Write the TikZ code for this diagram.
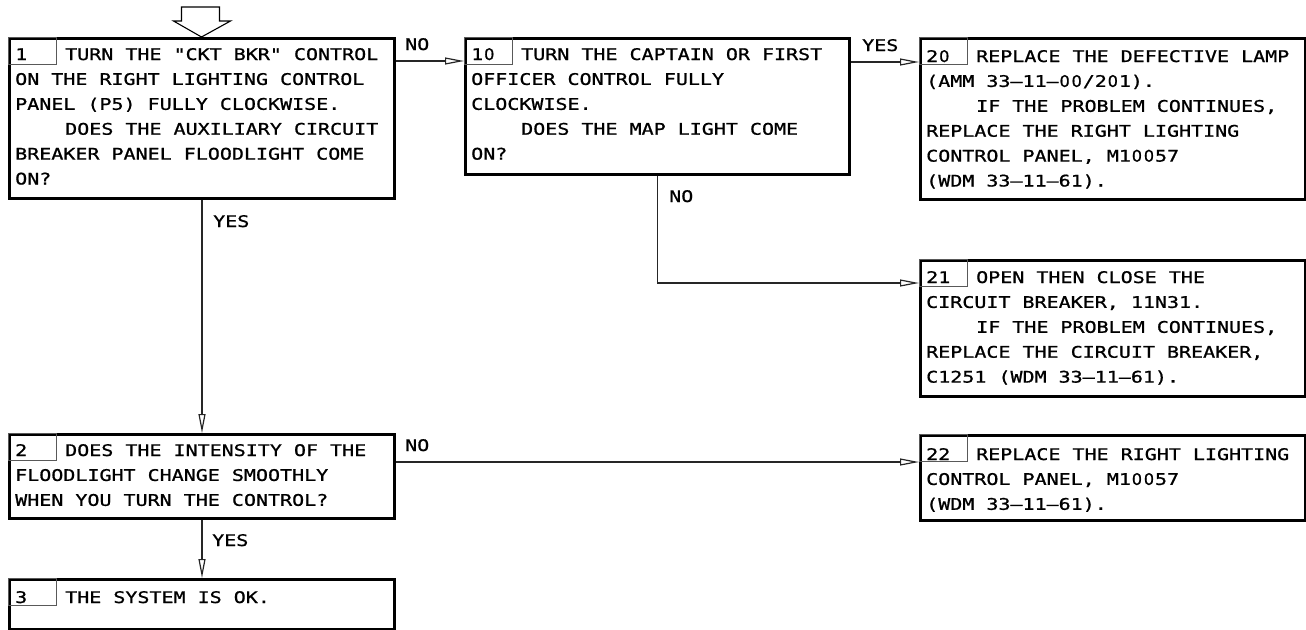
\documentclass[tikz,border=0pt]{standalone}
\usepackage{fontspec}
\usetikzlibrary{arrows.meta,calc}
\newfontfamily\diag[FakeStretch=1.25,FakeBold=1]{DejaVu Sans Mono}
\newfontfamily\zerofont[FakeBold=1]{DejaVu Sans}
\newcommand\zz{\makebox[12.04pt]{\zerofont 0}}
\newcommand\boxtext[3]{%
  \foreach \t [count=\i from 0] in {#3}{%
    \node[txt] (#1-\i) at ($(#2)+(0,\i*24.9)$) {\t};}}
\begin{document}
\begin{tikzpicture}[x=1pt,y=-1pt,
  box/.style={draw=black, line width=3pt, rectangle, inner sep=0pt, anchor=north west},
  cell/.style={draw=black!65, line width=1pt, rectangle, inner sep=0pt, anchor=north west,
    minimum width=48pt, minimum height=27pt},
  txt/.style={font=\diag\fontsize{16pt}{16pt}\selectfont, inner sep=0pt, anchor=base west},
  lbl/.style={txt},
  conn/.style={draw=black!85, line width=1.2pt, -{Triangle[open, length=19pt, width=7pt]}},
  blockarrow/.style={draw=black, line width=1.1pt, fill=white}
]
\useasboundingbox (0,0) rectangle (1306,629);

% boxes
\node[box, minimum width=385pt, minimum height=160pt] (b1)  at (8,37) {};
\node[box, minimum width=384pt, minimum height=136pt] (b10) at (464,37) {};
\node[box, minimum width=385pt, minimum height=161pt] (b20) at (919,37) {};
\node[box, minimum width=385pt, minimum height=136pt] (b21) at (919,259) {};
\node[box, minimum width=385pt, minimum height=84pt]  (b2)  at (8,433) {};
\node[box, minimum width=385pt, minimum height=85pt]  (b22) at (919,434) {};
\node[box, minimum width=385pt, minimum height=50pt]  (b3)  at (8,578) {};

% number cells
\node[cell] (c1)  at (8,37) {};
\node[cell] (c10) at (464,37) {};
\node[cell] (c20) at (919,37) {};
\node[cell] (c21) at (919,259) {};
\node[cell] (c2)  at (8,433) {};
\node[cell] (c22) at (919,434) {};
\node[cell] (c3)  at (8,578) {};

% texts
\coordinate (t1)  at (15,60);
\coordinate (t10) at (471,60);
\coordinate (t20) at (926,62);
\coordinate (t21) at (926,283);
\coordinate (t2)  at (15,456);
\coordinate (t22) at (926,460);
\coordinate (t3)  at (15,603);

\boxtext{x1}{t1}{{\makebox[50pt][l]{1}TURN THE "CKT BKR" CONTROL},
  {ON THE RIGHT LIGHTING CONTROL},
  {PANEL (P5) FULLY CLOCKWISE.},
  {\hspace*{50pt}DOES THE AUXILIARY CIRCUIT},
  {BREAKER PANEL FLOODLIGHT COME},
  {ON?}}
\boxtext{x10}{t10}{{\makebox[50pt][l]{1\zz}TURN THE CAPTAIN OR FIRST},
  {OFFICER CONTROL FULLY},
  {CLOCKWISE.},
  {\hspace*{50pt}DOES THE MAP LIGHT COME},
  {ON?}}
\boxtext{x20}{t20}{{\makebox[50pt][l]{2\zz}REPLACE THE DEFECTIVE LAMP},
  {(AMM 33–11–\zz\zz/2\zz1).},
  {\hspace*{50pt}IF THE PROBLEM CONTINUES,},
  {REPLACE THE RIGHT LIGHTING},
  {CONTROL PANEL, M1\zz\zz57},
  {(WDM 33–11–61).}}
\boxtext{x21}{t21}{{\makebox[50pt][l]{21}OPEN THEN CLOSE THE},
  {CIRCUIT BREAKER, 11N31.},
  {\hspace*{50pt}IF THE PROBLEM CONTINUES,},
  {REPLACE THE CIRCUIT BREAKER,},
  {C1251 (WDM 33–11–61).}}
\boxtext{x2}{t2}{{\makebox[50pt][l]{2}DOES THE INTENSITY OF THE},
  {FLOODLIGHT CHANGE SMOOTHLY},
  {WHEN YOU TURN THE CONTROL?}}
\boxtext{x22}{t22}{{\makebox[50pt][l]{22}REPLACE THE RIGHT LIGHTING},
  {CONTROL PANEL, M1\zz\zz57},
  {(WDM 33–11–61).}}
\boxtext{x3}{t3}{{\makebox[50pt][l]{3}THE SYSTEM IS OK.}}

% entry block arrow
\draw[blockarrow] ($(b1.north)+(-20.5,-30)$) -- ($(b1.north)+(17.5,-30)$)
  -- ($(b1.north)+(17.5,-16)$) -- ($(b1.north)+(28.5,-16)$)
  -- ($(b1.north)+(-0.5,0)$) -- ($(b1.north)+(-28.5,-16)$)
  -- ($(b1.north)+(-20.5,-16)$) -- cycle;

% connector rows
\coordinate (r1) at (0,61);
\coordinate (r2) at (0,62);
\coordinate (r3) at (0,283);
\coordinate (r4) at (0,462);

\draw[conn] (b1.east |- r1) -- (b10.west |- r1);
\draw[conn] (b10.east |- r2) -- (b20.west |- r2);
\draw[conn] (b10.south) |- (b21.west |- r3);
\draw[conn] (b1.south) -- (b2.north);
\draw[conn] (b2.east |- r4) -- (b22.west |- r4);
\draw[conn] (b2.south) -- (b3.north);

% labels
\node[lbl] (l1) at (405,50) {NO};
\node[lbl] (l2) at (862,51) {YES};
\node[lbl] (l3) at (669,202) {NO};
\node[lbl] (l4) at (213,227) {YES};
\node[lbl] (l5) at (405,451) {NO};
\node[lbl] (l6) at (212,546) {YES};
\end{tikzpicture}
\end{document}
